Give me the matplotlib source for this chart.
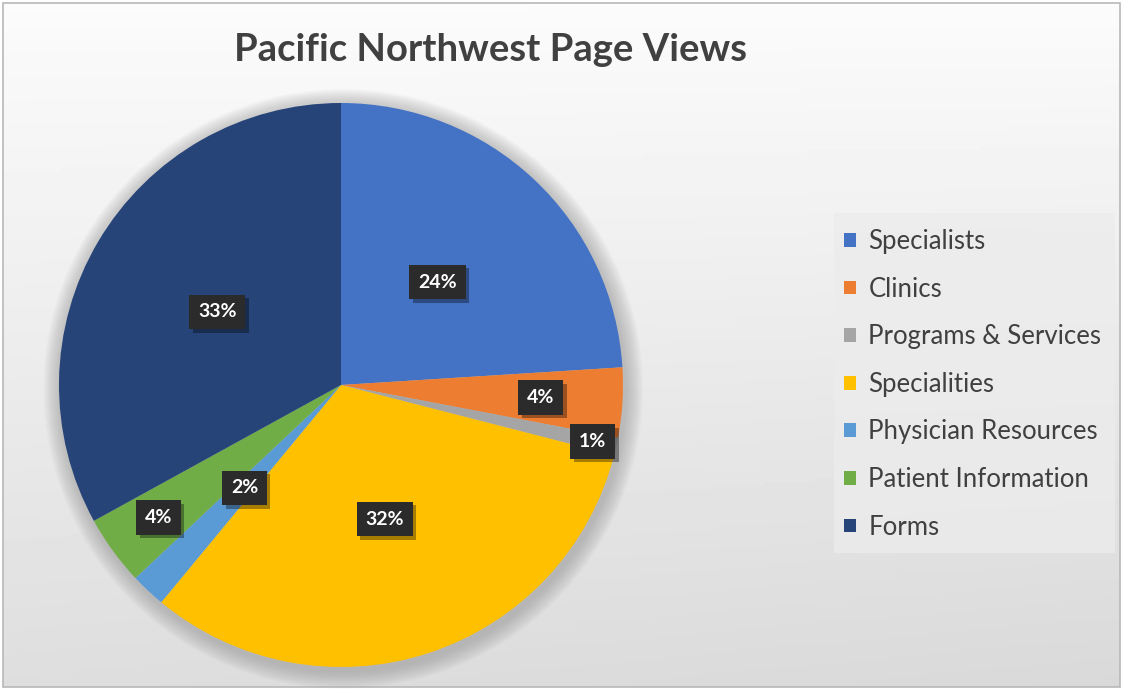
import numpy as np
import matplotlib
matplotlib.use("Agg")
import matplotlib.pyplot as plt
from matplotlib.patches import Circle, Rectangle
import matplotlib.patheffects as pe

categories = ["Specialists", "Clinics", "Programs & Services", "Specialities",
              "Physician Resources", "Patient Information", "Forms"]
values = [24, 4, 1, 32, 2, 4, 33]
colors = ["#4472C4", "#ED7D31", "#A5A5A5", "#FFC000", "#5B9BD5", "#70AD47", "#264478"]
title = "Pacific Northwest Page Views"

label_dist = [0.5, 0.71, 0.915, 0.5, 0.5, 0.8, 0.51]

W, H = 1122, 689
fig = plt.figure(figsize=(W / 100, H / 100), dpi=100)
fig.patch.set_facecolor("white")

# background gradient panel
bg = fig.add_axes([0, 0, 1, 1])
bg.set_xlim(0, W)
bg.set_ylim(H, 0)
bg.axis("off")
yy = np.linspace(0, 1, 200)[:, None]
xx = np.linspace(0, 1, 200)[None, :]
grad = 0.985 - 0.115 * yy - 0.02 * xx * yy
bg.imshow(grad, cmap="gray", vmin=0, vmax=1, extent=[3, 1120, 687, 3], aspect="auto", zorder=0)
bg.add_patch(Rectangle((3, 3), 1117, 684, fill=False, edgecolor="#b8b8b8", lw=1.2, zorder=1))
# legend panel
bg.add_patch(Rectangle((834, 213), 281, 340, facecolor="#ececec", edgecolor="none", alpha=0.8, zorder=1))

# pie axes
cx, cy, r = 341, 385, 282
m = 1.1
ax = fig.add_axes([(cx - m * r) / W, (H - cy - m * r) / H, 2 * m * r / W, 2 * m * r / H])

# soft shadow
for i in range(14):
    rr = 1.0 + 0.0045 * (14 - i)
    ax.add_patch(Circle((0.008, -0.014), rr, facecolor="#8f8f8f", edgecolor="none",
                        alpha=0.045, zorder=0))

wedges, _ = ax.pie(values, colors=colors, startangle=90, counterclock=False, radius=1.0,
                   wedgeprops=dict(linewidth=0))
for w in wedges:
    w.set_zorder(2)
ax.set_xlim(-m, m)
ax.set_ylim(-m, m)
ax.set_aspect("equal")
ax.axis("off")

for w, v, d in zip(wedges, values, label_dist):
    ang = np.deg2rad((w.theta1 + w.theta2) / 2)
    x, y = d * np.cos(ang), d * np.sin(ang)
    t = ax.text(x, y, f"{v}%", ha="center", va="center", fontsize=14, fontweight="bold",
                family="Lato", color="white", zorder=4,
                bbox=dict(boxstyle="square,pad=0.45", facecolor="#2b2b2b", edgecolor="none"))
    t.get_bbox_patch().set_path_effects([
        pe.SimplePatchShadow(offset=(2.5, -2.5), shadow_rgbFace="#000000", alpha=0.35),
        pe.Normal()])

fig.text(490 / W, 1 - 50 / H, title, ha="center", va="center", fontsize=27.5,
         fontweight="bold", family="Lato", color="#404040")

# legend
handles = [Rectangle((0, 0), 1, 1, facecolor=c, edgecolor="none") for c in colors]
leg = fig.legend(handles, categories, loc="upper left", bbox_to_anchor=(844 / W, 1 - 229 / H),
                 frameon=False, prop=dict(family="Lato", size=18.5), labelcolor="#404040",
                 handlelength=0.45, handleheight=0.45, handletextpad=0.5, labelspacing=0.88,
                 borderpad=0, borderaxespad=0)

fig.savefig("out.png", dpi=100)
